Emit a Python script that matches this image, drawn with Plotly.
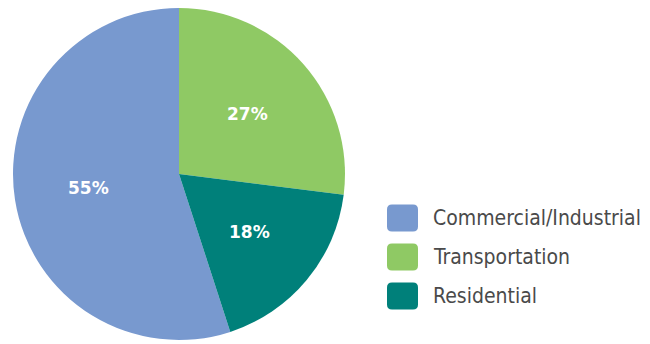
import math
import plotly.graph_objects as go

# Energy use by sector
sectors = ["Commercial/Industrial", "Transportation", "Residential"]
shares = [55, 27, 18]
colors = ["#7899CF", "#8FC964", "#00807A"]

W, H = 650, 344
ROTATION = 162  # degrees clockwise from 12 o'clock where the first slice starts

# pie placement in pixels
cx0, cx1 = 13, 345
cy0, cy1 = 8, 340

fig = go.Figure(
    go.Pie(
        labels=sectors,
        values=shares,
        marker=dict(colors=colors, line=dict(width=0)),
        sort=False,
        direction="clockwise",
        rotation=ROTATION,
        textinfo="none",
        domain=dict(x=[cx0 / W, cx1 / W], y=[1 - cy1 / H, 1 - cy0 / H]),
        showlegend=False,
        hoverinfo="label+percent",
    )
)


def px(x):
    return x / W


def py(y):
    return 1 - y / H


# percentage labels placed along each slice's middle angle
ccx, ccy = (cx0 + cx1) / 2, (cy0 + cy1) / 2
radius = (cx1 - cx0) / 2
total = sum(shares)
start = ROTATION
annotations = []
for name, val in zip(sectors, shares):
    span = 360 * val / total
    mid = math.radians(start + span / 2)
    start += span
    lx = ccx + 0.55 * radius * math.sin(mid)
    ly = ccy - 0.55 * radius * math.cos(mid)
    annotations.append(dict(
        x=px(lx), y=py(ly), xref="paper", yref="paper",
        xanchor="center", yanchor="middle", showarrow=False,
        text=f"<b>{val}%</b>",
        font=dict(family="DejaVu Sans", size=17, color="white"),
    ))

# Legend drawn as rounded swatches with labels
shapes = []
sw, sh, r = 31, 27, 5
x0 = 387
for i, (name, col) in enumerate(zip(sectors, colors)):
    cy = 218 + i * 39
    top, bot = cy - sh / 2, cy + sh / 2
    left, right = x0, x0 + sw
    path = (
        f"M {px(left + r)} {py(top)} L {px(right - r)} {py(top)} "
        f"Q {px(right)} {py(top)} {px(right)} {py(top + r)} "
        f"L {px(right)} {py(bot - r)} Q {px(right)} {py(bot)} {px(right - r)} {py(bot)} "
        f"L {px(left + r)} {py(bot)} Q {px(left)} {py(bot)} {px(left)} {py(bot - r)} "
        f"L {px(left)} {py(top + r)} Q {px(left)} {py(top)} {px(left + r)} {py(top)} Z"
    )
    shapes.append(dict(type="path", xref="paper", yref="paper", path=path,
                       fillcolor=col, line=dict(width=0)))
    annotations.append(dict(
        x=px(431), y=py(cy), xref="paper", yref="paper",
        xanchor="left", yanchor="middle", showarrow=False,
        text=name,
        font=dict(family="DejaVu Sans Condensed, DejaVu Sans", size=21, color="#4a4a4a"),
    ))

fig.update_layout(
    width=W,
    height=H,
    margin=dict(l=0, r=0, t=0, b=0),
    paper_bgcolor="white",
    plot_bgcolor="white",
    shapes=shapes,
    annotations=annotations,
)

fig.write_html("out.html")
